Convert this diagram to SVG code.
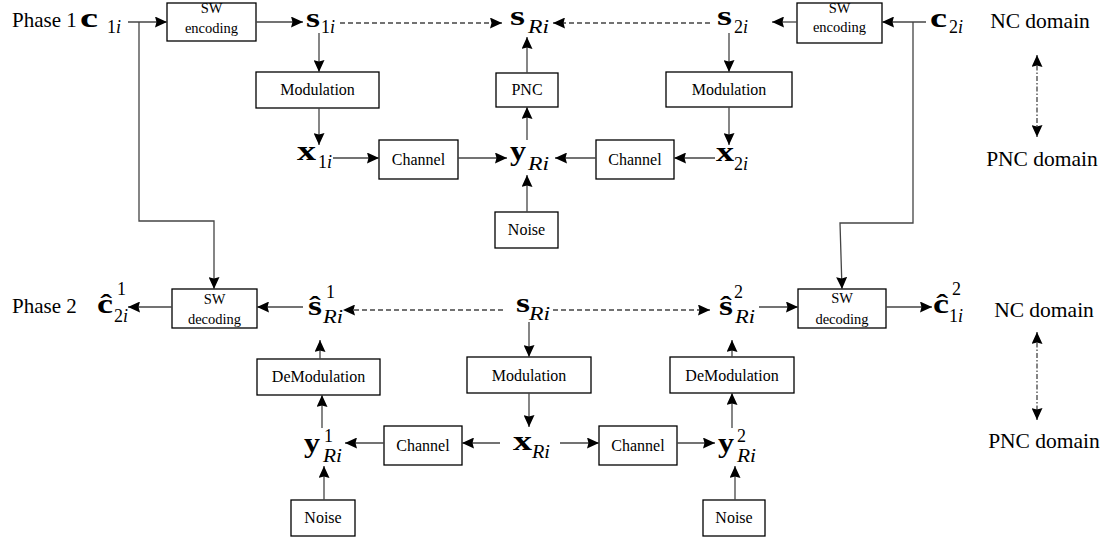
<svg xmlns="http://www.w3.org/2000/svg" width="1114" height="539" viewBox="0 0 1114 539">
<defs>
<marker id="ah" viewBox="0 0 12 11" markerWidth="12" markerHeight="11" refX="12" refY="5.5" orient="auto-start-reverse" markerUnits="userSpaceOnUse">
<path d="M0,0 L12,5.5 L0,11 L1.5,5.5 z" fill="#000"/>
</marker>
</defs>
<style>
.box{fill:#fff;stroke:#000;stroke-width:1.3}
.t{font-family:"Liberation Serif","Times New Roman",serif;font-size:16px;fill:#000;text-anchor:middle}
.sw{font-size:14.5px}
.big{font-family:"Liberation Serif","Times New Roman",serif;font-size:21px;fill:#000}
.dom{font-family:"Liberation Serif","Times New Roman",serif;font-size:21.5px;fill:#000;text-anchor:middle}
.m{font-family:"Liberation Serif","Times New Roman",serif;font-size:28px;font-weight:bold;fill:#000}
.s{font-family:"Liberation Serif","Times New Roman",serif;font-size:18px;fill:#000}
.it{font-style:italic}
.c{fill:none;stroke:#444;stroke-width:1.3;marker-end:url(#ah)}
.d{stroke-dasharray:5 3}
.dd{stroke-dasharray:5 2 1.5 2;marker-start:url(#ah)}
</style>

<g id="labels">
<text class="big" x="12" y="27">Phase 1</text>
<text class="big" x="12" y="313">Phase 2</text>
<text class="dom" x="1040" y="28">NC domain</text>
<text class="dom" x="1042" y="166">PNC domain</text>
<text class="dom" x="1044" y="317">NC domain</text>
<text class="dom" x="1044" y="448">PNC domain</text>
</g>

<!-- Phase 1 math nodes -->
<g id="c1i"><text class="m" x="80" y="27" textLength="18" lengthAdjust="spacingAndGlyphs">c</text><text class="s" x="107" y="33">1<tspan class="it">i</tspan></text></g>
<g id="s1i"><text class="m" x="306" y="27" textLength="14" lengthAdjust="spacingAndGlyphs">s</text><text class="s" x="321" y="33">1<tspan class="it">i</tspan></text></g>
<g id="sRi_top"><text class="m" x="510" y="25" textLength="15" lengthAdjust="spacingAndGlyphs">s</text><text class="s it" x="528" y="33" textLength="21" lengthAdjust="spacingAndGlyphs">Ri</text></g>
<g id="s2i"><text class="m" x="717" y="25" textLength="15" lengthAdjust="spacingAndGlyphs">s</text><text class="s" x="734" y="33">2<tspan class="it">i</tspan></text></g>
<g id="c2i"><text class="m" x="930" y="27" textLength="17" lengthAdjust="spacingAndGlyphs">c</text><text class="s" x="949" y="33">2<tspan class="it">i</tspan></text></g>
<g id="x1i"><text class="m" x="297" y="160" textLength="19" lengthAdjust="spacingAndGlyphs">x</text><text class="s" x="318" y="168">1<tspan class="it">i</tspan></text></g>
<g id="yRi_top"><text class="m" x="510" y="160" textLength="16" lengthAdjust="spacingAndGlyphs">y</text><text class="s it" x="528" y="170" textLength="21" lengthAdjust="spacingAndGlyphs">Ri</text></g>
<g id="x2i"><text class="m" x="716" y="161" textLength="18" lengthAdjust="spacingAndGlyphs">x</text><text class="s" x="734" y="170">2<tspan class="it">i</tspan></text></g>

<!-- Phase 1 boxes -->
<g id="swenc1"><rect class="box" x="167" y="3" width="89" height="38"/><text class="t sw" x="211.5" y="13">SW</text><text class="t sw" x="211.5" y="33">encoding</text></g>
<g id="mod1"><rect class="box" x="256" y="72" width="123" height="36"/><text class="t" x="317.5" y="95">Modulation</text></g>
<g id="pnc"><rect class="box" x="496" y="73" width="62" height="34"/><text class="t" x="527" y="95">PNC</text></g>
<g id="mod2"><rect class="box" x="666" y="72" width="126" height="35"/><text class="t" x="729" y="95">Modulation</text></g>
<g id="swenc2"><rect class="box" x="797" y="3" width="85" height="40"/><text class="t sw" x="839.5" y="13">SW</text><text class="t sw" x="839.5" y="32">encoding</text></g>
<g id="ch1"><rect class="box" x="379" y="140" width="79" height="39"/><text class="t" x="418.5" y="165">Channel</text></g>
<g id="ch2"><rect class="box" x="596" y="140" width="78" height="39"/><text class="t" x="635" y="165">Channel</text></g>
<g id="noise0"><rect class="box" x="495" y="212" width="63" height="36"/><text class="t" x="526.5" y="235">Noise</text></g>

<!-- Phase 2 math nodes -->
<g id="c2i_hat"><text class="m" x="97" y="313" textLength="16" lengthAdjust="spacingAndGlyphs">ĉ</text><text class="s" x="117" y="295">1</text><text class="s" x="114" y="322">2<tspan class="it">i</tspan></text></g>
<g id="s1Ri_hat"><text class="m" x="308" y="315" textLength="14" lengthAdjust="spacingAndGlyphs">ŝ</text><text class="s" x="326" y="298">1</text><text class="s it" x="323" y="323" textLength="20" lengthAdjust="spacingAndGlyphs">Ri</text></g>
<g id="sRi_mid"><text class="m" x="516" y="312" textLength="14" lengthAdjust="spacingAndGlyphs">s</text><text class="s it" x="529" y="320" textLength="21" lengthAdjust="spacingAndGlyphs">Ri</text></g>
<g id="s2Ri_hat"><text class="m" x="719" y="315" textLength="14" lengthAdjust="spacingAndGlyphs">ŝ</text><text class="s" x="734" y="298">2</text><text class="s it" x="735" y="323" textLength="20" lengthAdjust="spacingAndGlyphs">Ri</text></g>
<g id="c1i_hat"><text class="m" x="933" y="313" textLength="16" lengthAdjust="spacingAndGlyphs">ĉ</text><text class="s" x="952" y="295">2</text><text class="s" x="949" y="322">1<tspan class="it">i</tspan></text></g>
<g id="y1Ri"><text class="m" x="304" y="452" textLength="16" lengthAdjust="spacingAndGlyphs">y</text><text class="s" x="324" y="442">1</text><text class="s it" x="323" y="462" textLength="19" lengthAdjust="spacingAndGlyphs">Ri</text></g>
<g id="xRi"><text class="m" x="513" y="450" textLength="19" lengthAdjust="spacingAndGlyphs">x</text><text class="s it" x="532" y="458" textLength="18" lengthAdjust="spacingAndGlyphs">Ri</text></g>
<g id="y2Ri"><text class="m" x="718" y="452" textLength="16" lengthAdjust="spacingAndGlyphs">y</text><text class="s" x="737" y="442">2</text><text class="s it" x="737" y="462" textLength="19" lengthAdjust="spacingAndGlyphs">Ri</text></g>

<!-- Phase 2 boxes -->
<g id="swdec1"><rect class="box" x="172" y="289" width="85" height="39"/><text class="t sw" x="214.5" y="304">SW</text><text class="t sw" x="214.5" y="324">decoding</text></g>
<g id="swdec2"><rect class="box" x="798" y="289" width="88" height="39"/><text class="t sw" x="842" y="303">SW</text><text class="t sw" x="842" y="324">decoding</text></g>
<g id="demod1"><rect class="box" x="257" y="359" width="123" height="36"/><text class="t" x="318.5" y="382">DeModulation</text></g>
<g id="mod3"><rect class="box" x="467" y="357" width="124" height="36"/><text class="t" x="529" y="381">Modulation</text></g>
<g id="demod2"><rect class="box" x="670" y="357" width="124" height="36"/><text class="t" x="732" y="381">DeModulation</text></g>
<g id="ch3"><rect class="box" x="384" y="426" width="78" height="39"/><text class="t" x="423" y="451">Channel</text></g>
<g id="ch4"><rect class="box" x="599" y="426" width="78" height="39"/><text class="t" x="638" y="451">Channel</text></g>
<g id="noise1"><rect class="box" x="291" y="500" width="64" height="36"/><text class="t" x="323" y="523">Noise</text></g>
<g id="noise2"><rect class="box" x="703" y="500" width="62" height="36"/><text class="t" x="734" y="523">Noise</text></g>

<g id="connectors">
<path class="c" d="M128,22 H167"/>
<path class="c" d="M139,22 V221 H214 V289"/>
<path class="c" d="M256,22 H303"/>
<path class="c d" d="M340,23 H502"/>
<path class="c d" d="M710,23 H553"/>
<path class="c" d="M319,33 V72"/>
<path class="c" d="M319,108 V145"/>
<path class="c" d="M333,158 H379"/>
<path class="c" d="M458,158 H507"/>
<path class="c" d="M596,158 H555"/>
<path class="c" d="M715,158 H674"/>
<path class="c" d="M527,73 V37"/>
<path class="c" d="M527,140 V107"/>
<path class="c" d="M527,212 V175"/>
<path class="c" d="M729,33 V72"/>
<path class="c" d="M729,107 V145"/>
<path class="c" d="M797,22 H772"/>
<path class="c" d="M926,22 H882"/>
<path class="c" d="M913,22 V223 H840 L842,289"/>
<path class="c dd" d="M1037,55 V137"/>
<path class="c" d="M172,307 H128"/>
<path class="c" d="M303,307 H257"/>
<path class="c d" d="M503,310 H343"/>
<path class="c d" d="M553,310 H710"/>
<path class="c" d="M320,359 V340"/>
<path class="c" d="M529,322 V357"/>
<path class="c" d="M529,393 V427"/>
<path class="c" d="M500,443 H462"/>
<path class="c" d="M384,443 H345"/>
<path class="c" d="M560,443 H599"/>
<path class="c" d="M677,443 H715"/>
<path class="c" d="M322,428 V395"/>
<path class="c" d="M324,500 V466"/>
<path class="c" d="M732,428 V393"/>
<path class="c" d="M735,500 V466"/>
<path class="c" d="M732,357 V340"/>
<path class="c" d="M759,307 H798"/>
<path class="c" d="M886,307 H932"/>
<path class="c dd" d="M1037,332 V420"/>
</g>
</svg>
